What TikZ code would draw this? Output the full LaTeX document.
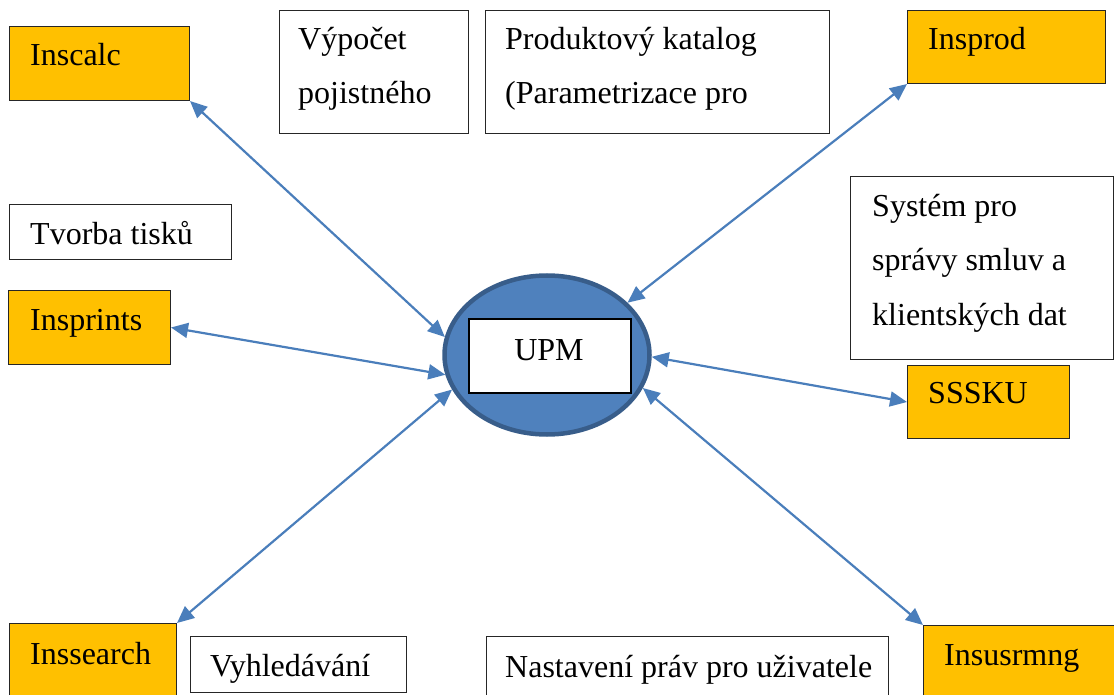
\documentclass[tikz,border=0pt]{standalone}
\usepackage{fontspec}
\setmainfont{Liberation Serif}
\usetikzlibrary{arrows.meta,shapes.geometric}
\definecolor{boxorange}{HTML}{FFC000}
\definecolor{linkblue}{HTML}{4A7EBB}
\definecolor{hubfill}{HTML}{4F81BD}
\definecolor{hubedge}{HTML}{385D8A}

\begin{document}
\begin{tikzpicture}[x=1pt,y=-1pt,
  every node/.style={font=\fontsize{32}{38}\selectfont},
  sysbox/.style={draw=black!85, line width=1pt, fill=boxorange, rectangle, inner sep=0pt, anchor=north west},
  notebox/.style={draw=black!85, line width=1pt, fill=white, rectangle, inner sep=0pt, anchor=north west},
  lbl/.style={inner sep=0pt, anchor=base west},
  link/.style={draw=linkblue, line width=2.2pt,
    {Triangle[length=17pt,width=15pt]}-{Triangle[length=17pt,width=15pt]}},
]
\useasboundingbox (0,0) rectangle (1114,695);

% boxes
\node[sysbox, minimum width=180pt, minimum height=74pt] (inscalc) at (9,26) {};
\node[notebox, minimum width=189pt, minimum height=123pt] (vypocet) at (279,10) {};
\node[notebox, minimum width=344pt, minimum height=123pt] (katalog) at (485,10) {};
\node[sysbox, minimum width=198pt, minimum height=73pt] (insprod) at (907,10) {};
\node[notebox, minimum width=222pt, minimum height=55pt] (tisky) at (9,204) {};
\node[sysbox, minimum width=162pt, minimum height=74pt] (insprints) at (8,290) {};
\node[notebox, minimum width=263pt, minimum height=183pt] (system) at (850,176) {};
\node[sysbox, minimum width=162pt, minimum height=73pt] (sssku) at (907,365) {};
\node[sysbox, minimum width=167pt, minimum height=82pt] (inssearch) at (9,623) {};
\node[notebox, minimum width=216pt, minimum height=56pt] (vyhledavani) at (190,636) {};
\node[notebox, minimum width=402pt, minimum height=69pt] (nastaveni) at (486,636) {};
\node[sysbox, minimum width=197pt, minimum height=80pt] (insusrmng) at (923,625) {};

% box texts
\node[lbl] (t-inscalc) at (30,66) {Inscalc};
\node[lbl] (t-vyp1) at (298,50) {Výpočet};
\node[lbl] (t-vyp2) at (298,104) {pojistného};
\node[lbl] (t-kat1) at (505,50) {Produktový katalog};
\node[lbl] (t-kat2) at (505,104) {(Parametrizace pro};
\node[lbl] (t-insprod) at (928,50) {Insprod};
\node[lbl] (t-tisky) at (30,244) {Tvorba tisků};
\node[lbl] (t-insprints) at (30,330) {Insprints};
\node[lbl] (t-sys1) at (872,217) {Systém pro};
\node[lbl] (t-sys2) at (872,271) {správy smluv a};
\node[lbl] (t-sys3) at (872,325) {klientských dat};
\node[lbl] (t-sssku) at (928,403) {SSSKU};
\node[lbl] (t-inssearch) at (30,664) {Inssearch};
\node[lbl] (t-vyhl) at (210,676) {Vyhledávání};
\node[lbl] (t-nast) at (505,677) {Nastavení práv pro uživatele};
\node[lbl] (t-insusrmng) at (944,665) {Insusrmng};

% central hub
\node[ellipse, draw=hubedge, line width=4.5pt, fill=hubfill, inner sep=0pt,
      minimum width=205pt, minimum height=159pt] (upm) at (547,355) {};
\node[draw=black, line width=1.5pt, fill=white, inner sep=0pt,
      minimum width=162pt, minimum height=74pt] (upmbox) at (550,356) {};
\node[inner sep=0pt, anchor=base] (t-upm) at (549,360) {UPM};

% connectors
\draw[link] (inscalc.south east) -- (upm.170);
\draw[link] (insprod.south west) -- (upm.33);
\draw[link] (insprints.east) -- (upm.191);
\draw[link] (sssku.west) -- (upm.359);
\draw[link] (inssearch.north east) -- (upm.200);
\draw[link] (insusrmng.north west) -- (upm.341);
\end{tikzpicture}
\end{document}
